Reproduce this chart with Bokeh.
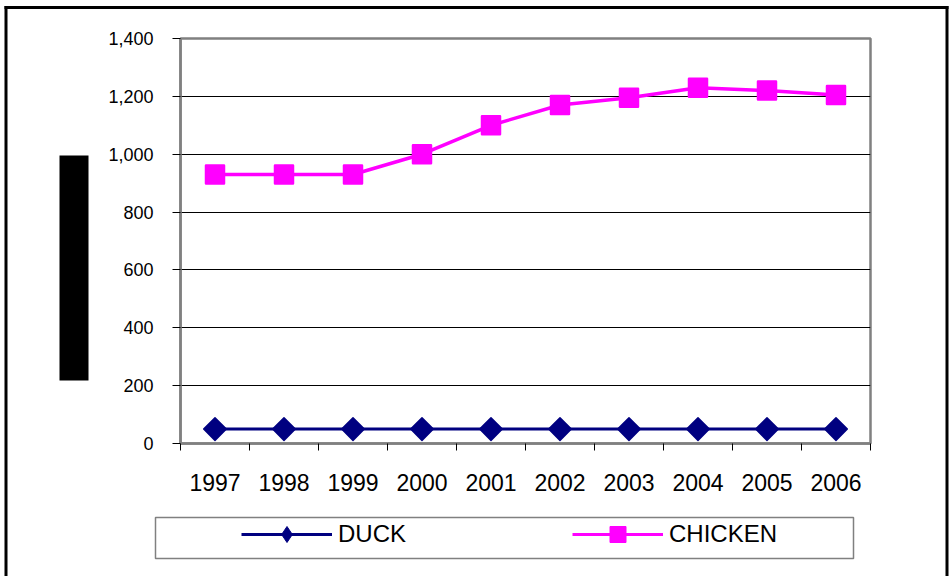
import numpy as np
from bokeh.plotting import figure
from bokeh.models import (Range1d, FixedTicker, NumeralTickFormatter, Legend,
                          LegendItem, BoxAnnotation, GridBox)
from bokeh.embed import file_html
from bokeh.resources import INLINE

# ---- data ----
years = [1997, 1998, 1999, 2000, 2001, 2002, 2003, 2004, 2005, 2006]
duck = [50, 50, 50, 50, 50, 50, 50, 50, 50, 50]
chicken = [930, 930, 930, 1000, 1100, 1170, 1195, 1230, 1220, 1205]
y_ticks = [0, 200, 400, 600, 800, 1000, 1200, 1400]
year_labels = {y: str(y) for y in years}
bounds = [y - 0.5 for y in years] + [years[-1] + 0.5]

NAVY = "#000080"
MAGENTA = "#FF00FF"
GRAY = "#808080"
FONT = "Liberation Sans"

W, H = 949, 576
FL, FT, FR, FB = 180, 38, 870, 443   # frame edges in page px

# ---------------- main chart ----------------
p = figure(width=W, height=H, output_backend="svg", toolbar_location=None,
           title=None,
           x_range=Range1d(years[0] - 0.5, years[-1] + 0.5),
           y_range=Range1d(0, 1400),
           min_border_left=FL, min_border_right=W - FR,
           min_border_top=FT, min_border_bottom=H - FB)
p.background_fill_color = "white"
p.border_fill_color = "white"
p.outline_line_color = GRAY
p.outline_line_width = 2.5

p.xgrid.visible = False
p.ygrid.ticker = FixedTicker(ticks=y_ticks)
p.ygrid.grid_line_color = "black"
p.ygrid.grid_line_width = 1

ya = p.yaxis[0]
ya.ticker = FixedTicker(ticks=y_ticks)
ya.formatter = NumeralTickFormatter(format="0,0")
ya.axis_line_color = GRAY
ya.axis_line_width = 2.5
ya.major_tick_line_color = "black"
ya.major_tick_out = 8
ya.major_tick_in = 0
ya.minor_tick_line_color = None
ya.major_label_standoff = 19
ya.major_label_text_font = FONT
ya.major_label_text_font_size = "18px"
ya.major_label_text_color = "black"

xa = p.xaxis[0]
xa.ticker = FixedTicker(ticks=years, minor_ticks=bounds)
xa.major_label_overrides = year_labels
xa.axis_line_color = GRAY
xa.axis_line_width = 2.5
xa.major_tick_out = 0
xa.major_tick_in = 0
xa.minor_tick_out = 7
xa.minor_tick_in = 0
xa.minor_tick_line_color = "black"
xa.major_label_standoff = 23
xa.major_label_text_font = FONT
xa.major_label_text_font_size = "23px"
xa.major_label_text_color = "black"

p.line(years, duck, line_color=NAVY, line_width=3)
p.scatter(years, duck, marker="square", angle=np.pi / 4, size=16,
          fill_color=NAVY, line_color=NAVY, line_width=1.5, line_join="round")
p.line(years, chicken, line_color=MAGENTA, line_width=3.5)
p.scatter(years, chicken, marker="square", size=18,
          fill_color=MAGENTA, line_color=MAGENTA, line_width=2.5,
          line_join="round")

# ---------------- overlay (legend, frame, box) ----------------
q = figure(width=W, height=H, output_backend="svg", toolbar_location=None,
           title=None, x_range=Range1d(0, 1), y_range=Range1d(0, 1),
           x_axis_location=None, y_axis_location=None,
           min_border_left=0, min_border_right=0,
           min_border_top=0, min_border_bottom=0)
q.grid.visible = False
q.outline_line_color = None
q.background_fill_alpha = 0
q.border_fill_alpha = 0

for fig in (p, q):
    if hasattr(fig, "frame_align"):
        fig.frame_align = False


def canvas_box(l, r, t, b, **kw):
    return BoxAnnotation(left=l, right=r, top=t, bottom=b,
                         left_units="canvas", right_units="canvas",
                         top_units="canvas", bottom_units="canvas", **kw)


# outer border (top, left, right)
for (l, r, t, b) in [(4, 948, 5.5, 8.5), (4, 7, 5.5, H), (945, 948, 5.5, H)]:
    q.add_layout(canvas_box(l, r, t, b, fill_color="black", fill_alpha=1,
                            line_color=None))
# black box at left
q.add_layout(canvas_box(59, 88, 155, 380, fill_color="black", fill_alpha=1,
                        line_color=None))
# legend frame
q.add_layout(canvas_box(155, 853, 517, 558, fill_alpha=0,
                        line_color=GRAY, line_alpha=1, line_width=1.5))

# legend renderers (their data lies outside this overlay's ranges)
ld = q.line(years, duck, line_color=NAVY, line_width=3)
lds = q.scatter(years, duck, marker="diamond", size=16,
                fill_color=NAVY, line_color=NAVY)
lc = q.line(years, chicken, line_color=MAGENTA, line_width=3)
lcs = q.scatter(years, chicken, marker="square", size=14,
                fill_color=MAGENTA, line_color=MAGENTA, line_join="round")

legend = Legend(items=[LegendItem(label="DUCK", renderers=[ld, lds]),
                       LegendItem(label="CHICKEN", renderers=[lc, lcs])],
                orientation="horizontal", location=(241, 22),
                padding=0, margin=0, spacing=114,
                glyph_width=91, glyph_height=40, label_standoff=6,
                label_width=120, label_height=40,
                label_text_font=FONT, label_text_font_size="24px",
                label_text_color="black",
                border_line_alpha=0, background_fill_alpha=0)
q.add_layout(legend)

layout = GridBox(children=[(p, 0, 0), (q, 0, 0)])
open("out.html", "w").write(file_html(layout, INLINE))
